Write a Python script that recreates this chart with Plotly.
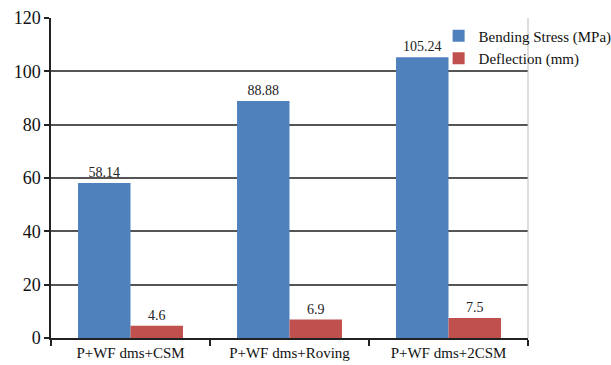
import plotly.graph_objects as go

categories = ["P+WF dms+CSM", "P+WF dms+Roving", "P+WF dms+2CSM"]
bending_stress = [58.14, 88.88, 105.24]
deflection = [4.6, 6.9, 7.5]
bending_labels = ["58.14", "88.88", "105.24"]
deflection_labels = ["4.6", "6.9", "7.5"]
y_ticks = [0, 20, 40, 60, 80, 100, 120]

FONT = "Liberation Serif, DejaVu Serif"

fig = go.Figure()
fig.add_trace(go.Bar(
    name="Bending Stress (MPa)", x=categories, y=bending_stress,
    marker=dict(color="#4F81BD", line=dict(width=0)),
    text=bending_labels, textposition="outside", cliponaxis=False,
    textfont=dict(family=FONT, size=14, color="#222222"),
))
fig.add_trace(go.Bar(
    name="Deflection (mm)", x=categories, y=deflection,
    marker=dict(color="#C0504D", line=dict(width=0)),
    text=deflection_labels, textposition="outside", cliponaxis=False,
    textfont=dict(family=FONT, size=14, color="#222222"),
))

fig.update_layout(
    width=611, height=365,
    margin=dict(l=51, r=83, t=18, b=27, autoexpand=False),
    paper_bgcolor="white", plot_bgcolor="white",
    barmode="group", bargap=0.34, bargroupgap=0,
    font=dict(family=FONT, size=14, color="#111111"),
    legend=dict(
        x=0.8126, y=0.995, xanchor="left", yanchor="top",
        bgcolor="rgba(0,0,0,0)", font=dict(family=FONT, size=15, color="#111111"),
        tracegroupgap=0, itemwidth=30, itemsizing="constant",
    ),
    showlegend=True,
)
fig.update_xaxes(
    type="category", showline=True, linecolor="#222222", linewidth=1.5,
    ticks="outside", tickson="boundaries", ticklen=6, tickcolor="#222222",
    tickwidth=1.5, mirror=False, showgrid=False,
    tickfont=dict(family=FONT, size=15, color="#111111"),
)
fig.update_yaxes(
    range=[0, 120], tickvals=y_ticks, showline=True, linecolor="#222222",
    linewidth=1.5, ticks="outside", ticklen=5, tickcolor="#222222", tickwidth=1.5,
    showgrid=True, gridcolor="#555555", gridwidth=1.5, zeroline=False,
    tickfont=dict(family=FONT, size=18, color="#111111"),
)
# light frame on the right edge of the plot area
fig.add_shape(type="line", xref="paper", yref="paper", x0=1, x1=1, y0=0, y1=1,
              line=dict(color="#BBBBBB", width=1))

fig.write_html("out.html")
